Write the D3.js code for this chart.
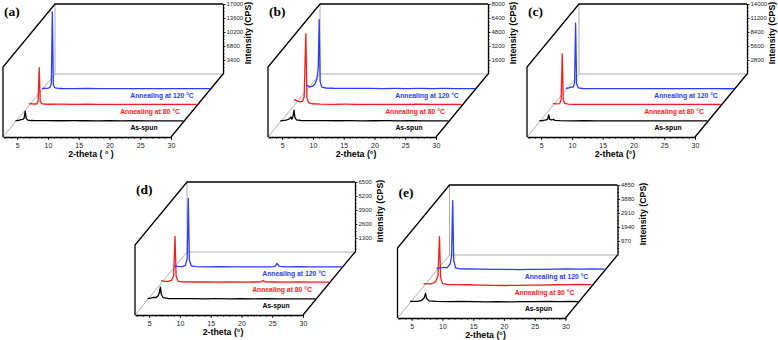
<!DOCTYPE html>
<html>
<head>
<meta charset="utf-8">
<script src="https://cdn.jsdelivr.net/npm/d3@7"></script>
<style>
  body { margin: 0; background: #fff; }
  svg { display: block; }
</style>
</head>
<body>
<script>
// ---- data ----
const xDomain = [2.7, 30];
const xTickValues = [5, 10, 15, 20, 25, 30];
const panelNames = ['(a)', '(b)', '(c)', '(d)', '(e)'];
const xTitles = ['2-theta ( ° )', '2-theta (°)', '2-theta (°)', '2-theta (°)', '2-theta (°)'];
const yTitle = 'Intensity (CPS)';
const seriesNames = ['As-spun', 'Annealing at 80 °C', 'Annealing at 120 °C'];
const yMax = [17000, 8000, 14000, 6500, 4850];
const yTickValues = [
  [3400, 6800, 10200, 13600, 17000],
  [1600, 3200, 4800, 6400, 8000],
  [2800, 5600, 8400, 11200, 14000],
  [1300, 2600, 3900, 5200, 6500],
  [970, 1940, 2910, 3880, 4850]
];

// [2-theta, counts] for as-spun, 80 °C, 120 °C
const panelA = [
  [[2.7,320],[3.2,380],[3.6,520],[3.9,620],[4.1,900],[4.28,2600],[4.45,800],[4.7,420],[5.2,330],[6,300],[8,310],[10,270],[12,290],[14,270],[16,250],[18,280],[20,250],[22,270],[24,260],[26,240],[28,250],[30,250]],
  [[2.7,420],[3.2,380],[3.7,360],[4.0,420],[4.18,1000],[4.36,9200],[4.52,1000],[4.75,420],[5.3,330],[6,300],[8,310],[10,280],[12,300],[14,270],[16,290],[18,270],[20,280],[22,260],[24,280],[26,260],[28,270],[30,260]],
  [[2.7,300],[3.3,330],[3.8,420],[4.05,700],[4.22,1600],[4.38,18900],[4.54,1300],[4.75,500],[5.3,330],[6,300],[8,290],[10,300],[12,270],[14,290],[16,270],[18,280],[20,260],[22,280],[24,260],[26,270],[28,250],[30,260]]
];
const panelB = [
  [[2.7,130],[3.3,170],[3.8,240],[4.2,380],[4.4,560],[4.55,300],[4.75,650],[4.9,1350],[5.05,500],[5.3,220],[6,160],[8,140],[10,150],[12,130],[14,140],[16,120],[18,130],[20,140],[22,120],[24,130],[26,110],[28,120],[30,110]],
  [[2.7,700],[3.2,520],[3.7,420],[4.1,480],[4.35,1000],[4.62,8200],[4.8,900],[5.05,330],[5.6,200],[7,150],[9,140],[11,150],[13,130],[15,140],[17,120],[19,140],[21,130],[23,150],[25,130],[27,140],[29,120],[30,130]],
  [[2.7,520],[3.1,330],[3.6,400],[4.0,650],[4.3,1200],[4.52,2400],[4.68,8000],[4.84,900],[5.1,300],[5.8,200],[7,170],[9,160],[11,150],[13,160],[15,140],[17,150],[19,130],[21,150],[23,140],[25,150],[27,130],[29,140],[30,130]]
];
const panelC = [
  [[2.7,230],[3.3,280],[3.8,400],[4.05,600],[4.2,1400],[4.36,500],[4.7,380],[4.95,520],[5.2,300],[6,240],[8,220],[10,230],[12,210],[14,220],[16,200],[18,210],[20,220],[22,200],[24,210],[26,190],[28,200],[30,190]],
  [[2.7,380],[3.3,330],[3.8,380],[4.02,1200],[4.2,10300],[4.36,1200],[4.6,420],[5.2,270],[6,240],[8,230],[10,240],[12,220],[14,230],[16,210],[18,230],[20,220],[22,210],[24,230],[26,210],[28,220],[30,200]],
  [[2.7,300],[3.2,380],[3.6,560],[3.9,520],[4.1,1400],[4.26,13300],[4.42,1200],[4.7,380],[5.4,250],[7,230],[9,240],[11,220],[13,230],[15,210],[17,230],[19,220],[21,210],[23,230],[25,210],[27,220],[29,200],[30,210]]
];
const panelD = [
  [[2.7,110],[3.2,170],[3.7,240],[4.1,220],[4.45,380],[4.65,700],[4.8,1180],[4.95,500],[5.25,200],[6,130],[8,110],[10,120],[12,100],[14,110],[16,100],[18,110],[20,90],[22,110],[24,100],[26,90],[28,100],[30,90]],
  [[2.7,260],[3.3,200],[3.9,190],[4.4,300],[4.75,700],[4.98,4400],[5.15,700],[5.45,220],[6,160],[8,140],[10,150],[12,130],[14,140],[16,130],[18,140],[19.0,150],[19.3,280],[19.6,150],[21,140],[23,130],[25,140],[27,120],[29,130],[30,120]],
  [[2.7,150],[3.3,120],[4.0,110],[4.55,220],[4.85,900],[5.02,6450],[5.2,700],[5.5,180],[6.2,100],[8,90],[10,100],[12,80],[14,90],[16,80],[18,90],[19.1,110],[19.45,400],[19.8,120],[21,90],[23,100],[25,80],[27,90],[29,80],[30,90]]
];
const panelE = [
  [[2.7,100],[3.3,110],[3.9,100],[4.5,150],[4.9,280],[5.1,450],[5.22,680],[5.4,300],[5.8,140],[7,100],[9,90],[11,100],[13,80],[15,70],[17,80],[19,70],[21,90],[23,80],[25,100],[27,90],[29,100],[30,90]],
  [[2.7,200],[3.3,180],[4.0,190],[4.6,300],[5.05,700],[5.3,3450],[5.48,600],[5.8,200],[6.5,140],[8,130],[10,120],[12,100],[14,80],[16,70],[18,80],[20,90],[22,100],[24,120],[26,130],[28,140],[30,130]],
  [[2.7,160],[3.3,200],[3.9,230],[4.4,200],[4.9,450],[5.15,1000],[5.33,4850],[5.5,700],[5.8,200],[6.5,130],[8,120],[10,110],[12,100],[14,90],[16,80],[18,90],[20,100],[22,110],[24,120],[26,110],[28,120],[30,110]]
];
const panels = [panelA, panelB, panelC, panelD, panelE];

// ---- layout ----
let W = 168, H = 70, DX = 52, DY = -63;       // front width, back height, depth vector
let origins = [[3, 137], [268, 137], [527, 137], [135, 315], [397.5, 318]]; // front-bottom-left corners
let depths = [0.24, 0.5, 0.75];
let colors = ['#000000', '#ff1a1a', '#2a3cff'];
let labelX = [141, 147, 159];
let sans = '"Liberation Sans", Arial, sans-serif';

let svg = d3.select('body').append('svg')
  .attr('xmlns', 'http://www.w3.org/2000/svg')
  .attr('width', 778)
  .attr('height', 340);

panels.forEach(function(data, p) {
  let x0 = origins[p][0], y0 = origins[p][1];
  let g = svg.append('g').attr('transform', 'translate(' + x0 + ',' + y0 + ')');

  let x = d3.scaleLinear().domain(xDomain).range([0, W]);
  let y = d3.scaleLinear().domain([0, yMax[p]]).range([0, -H]);
  let yBack = d3.scaleLinear().domain([0, yMax[p]]).range([DY, DY - H]);

  // gray floor / back lines
  g.append('path')
    .attr('d', 'M0,0L' + DX + ',' + DY + 'L' + DX + ',' + (DY - H) + 'M' + DX + ',' + DY + 'H' + (DX + W))
    .attr('fill', 'none').attr('stroke', '#9a9a9a').attr('stroke-width', 0.8);

  // black frame
  g.append('path')
    .attr('d', 'M0,0V' + (-H) + 'L' + DX + ',' + (DY - H) + 'H' + (DX + W) + 'M' + W + ',0L' + (W + DX) + ',' + DY)
    .attr('fill', 'none').attr('stroke', '#000').attr('stroke-width', 1.3);

  // bottom axis (front)
  let xMinor = g.append('g').call(d3.axisBottom(x).tickValues(d3.range(3, 31)).tickSize(1.8).tickFormat(''));
  xMinor.select('.domain').remove();
  let xAxis = g.append('g').call(d3.axisBottom(x).tickValues(xTickValues).tickSize(3).tickSizeOuter(0).tickPadding(3.5));
  xAxis.select('.domain').attr('stroke-width', 1.3);
  g.selectAll('.tick line').attr('stroke-width', 0.8);
  xAxis.selectAll('text').attr('font-size', 7).attr('font-family', sans).attr('fill', '#222');

  // right axis (back)
  let step = yTickValues[p][1] - yTickValues[p][0];
  let backAxis = g.append('g').attr('transform', 'translate(' + (W + DX) + ',0)');
  let yMinor = backAxis.append('g').call(d3.axisRight(yBack).tickValues(d3.range(step / 4, yMax[p] + 1, step / 4)).tickSize(1.5).tickFormat(''));
  yMinor.select('.domain').remove();
  let yAxis = backAxis.append('g').call(d3.axisRight(yBack).tickValues(yTickValues[p]).tickFormat(d3.format('d'))
    .tickSize(2.5).tickSizeOuter(0).tickPadding(1));
  yAxis.select('.domain').attr('stroke-width', 1.3);
  backAxis.selectAll('.tick line').attr('stroke-width', 0.8);
  yAxis.selectAll('text').attr('font-size', 6).attr('font-family', sans).attr('fill', '#222');

  // curves, one plane per sample
  data.forEach(function(s, i) {
    let f = depths[i];
    let line = d3.line()
      .x(function(d) { return x(d[0]) + f * DX; })
      .y(function(d) { return f * DY + y(d[1]); });
    g.append('path')
      .datum(s)
      .attr('d', line)
      .attr('fill', 'none')
      .attr('stroke', colors[i])
      .attr('stroke-width', 1.3)
      .attr('stroke-linejoin', 'round');

    g.append('text')
      .attr('x', labelX[i])
      .attr('y', f * DY + 8)
      .attr('text-anchor', 'middle')
      .attr('font-family', sans)
      .attr('font-weight', 'bold')
      .attr('font-size', 6.8)
      .attr('fill', colors[i])
      .text(seriesNames[i]);
  });

  // titles
  g.append('text')
    .attr('x', 88).attr('y', 19.5)
    .attr('text-anchor', 'middle')
    .attr('font-family', sans).attr('font-weight', 'bold').attr('font-size', 8.8)
    .text(xTitles[p]);

  g.append('text')
    .attr('transform', 'translate(' + (W + DX + 28) + ',' + (DY - H / 2 - 6) + ') rotate(-90)')
    .attr('text-anchor', 'middle')
    .attr('font-family', sans).attr('font-weight', 'bold').attr('font-size', 8.8)
    .text(yTitle);

  g.append('text')
    .attr('x', 1).attr('y', -121)
    .attr('font-family', '"Liberation Serif", "Times New Roman", serif')
    .attr('font-weight', 'bold').attr('font-size', 13.5)
    .text(panelNames[p]);
});
</script>
</body>
</html>
